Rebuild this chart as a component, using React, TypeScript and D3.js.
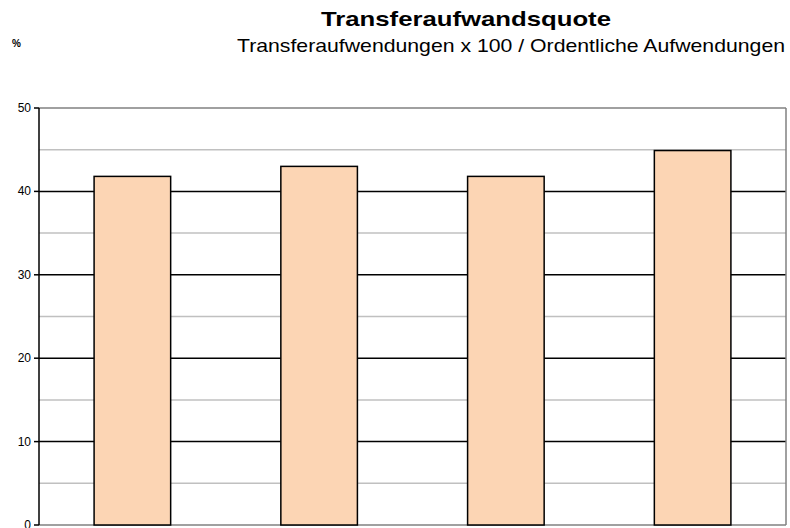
import React from "react";
import * as d3 from "d3";

const categories = ["A", "B", "C", "D"];
const values = [41.8, 43.0, 41.8, 44.9];
const majorTicks = [0, 10, 20, 30, 40, 50];
const minorTicks = [5, 15, 25, 35, 45];

export default function App() {
  const W = 790, H = 528;
  const left = 39, right = 786, top = 108, bottom = 525;
  const y = d3.scaleLinear().domain([0, 50]).range([bottom, top]);
  const x = d3.scaleBand().domain(categories).range([left, right]).paddingInner(0.59).paddingOuter(0.295);
  return (
    <svg width={W} height={H} style={{ position: "absolute", left: 0, top: 0, fontFamily: "'Liberation Sans', Arial, sans-serif" }}>
      <rect x={0} y={0} width={W} height={H} fill="#fff" />
      <text x={466} y={26} textAnchor="middle" fontSize={21} fontWeight="bold" textLength={290} lengthAdjust="spacingAndGlyphs">Transferaufwandsquote</text>
      <text x={785} y={52} textAnchor="end" fontSize={18.5} textLength={548} lengthAdjust="spacingAndGlyphs">Transferaufwendungen x 100 / Ordentliche Aufwendungen</text>
      <text x={12} y={47} fontSize={10} fontWeight="bold">%</text>
      {minorTicks.map(t => (
        <line key={"m" + t} x1={left} x2={right} y1={y(t)} y2={y(t)} stroke="#c0c0c0" strokeWidth={1.5} />
      ))}
      {majorTicks.filter(t => t > 0 && t < 50).map(t => (
        <line key={"g" + t} x1={left} x2={right} y1={y(t)} y2={y(t)} stroke="#000" strokeWidth={1.5} />
      ))}
      <line x1={left} x2={right} y1={y(50)} y2={y(50)} stroke="#808080" strokeWidth={1.5} />
      <line x1={right} x2={right} y1={y(50)} y2={y(0)} stroke="#808080" strokeWidth={1.5} />
      <line x1={left} x2={right} y1={y(0)} y2={y(0)} stroke="#808080" strokeWidth={1.5} />
      {values.map((v, i) => (
        <rect key={i} x={x(categories[i])} y={y(v)} width={x.bandwidth()} height={y(0) - y(v)} fill="#fcd5b4" stroke="#000" strokeWidth={1.5} />
      ))}
      <line x1={left} x2={left} y1={y(50)} y2={y(0)} stroke="#000" strokeWidth={1.5} />
      {majorTicks.map(t => (
        <g key={"t" + t}>
          <line x1={left - 5} x2={left} y1={y(t)} y2={y(t)} stroke="#000" strokeWidth={1.5} />
          <text x={31} y={y(t) + 4} textAnchor="end" fontSize={12}>{t}</text>
        </g>
      ))}
    </svg>
  );
}
